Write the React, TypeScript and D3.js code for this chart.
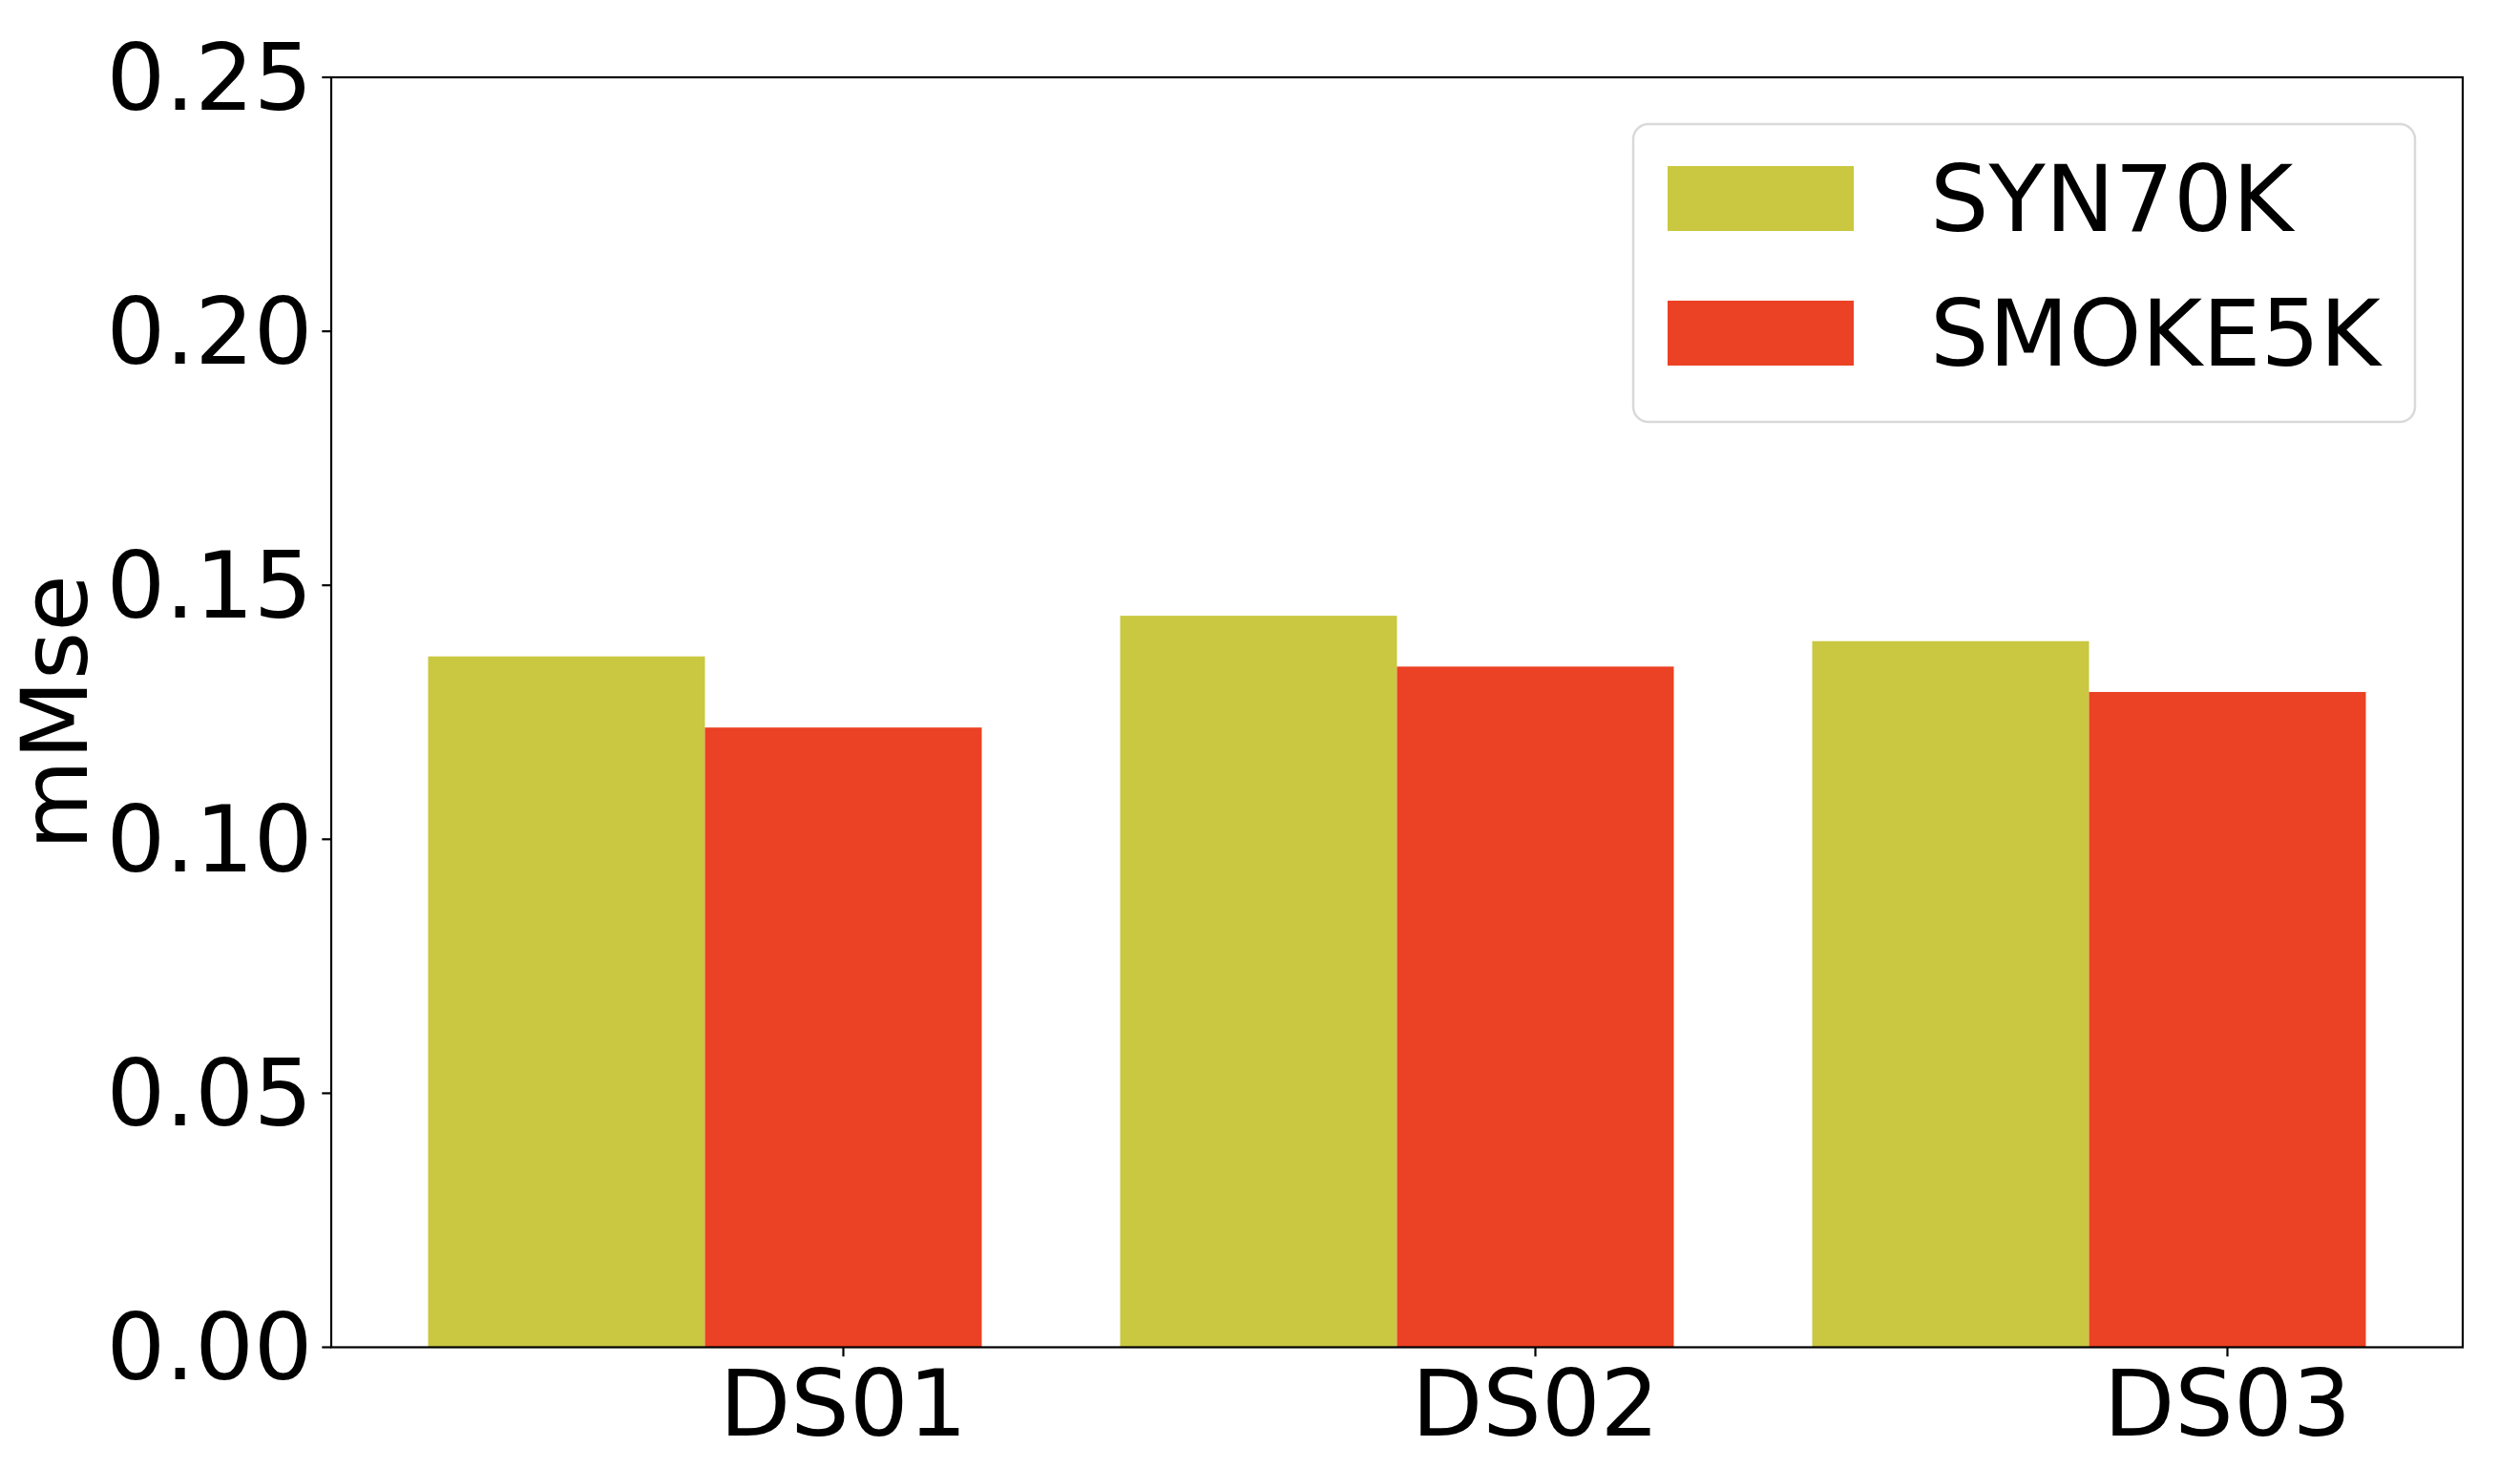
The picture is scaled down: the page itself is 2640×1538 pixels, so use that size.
import React from "react";
import * as d3 from "d3";

const categories = ["DS01", "DS02", "DS03"];
const seriesNames = ["SYN70K", "SMOKE5K"];
const syn70kValues = [0.136, 0.144, 0.139];
const smoke5kValues = [0.122, 0.134, 0.129];
const seriesColors = ["#c9c840", "#eb4124"];
const yTicks = [0, 0.05, 0.1, 0.15, 0.2, 0.25];

const W = 2640;
const H = 1538;
const left = 347;
const right = 2580;
const top = 81;
const bottom = 1411.5;
const barW = 0.4;
const FONT = "DejaVu Sans, Verdana, sans-serif";
const FS = 97;

export default function App() {
  const x = d3.scaleLinear().domain([-0.34, 2.74]).range([left, right]);
  const y = d3.scaleLinear().domain([0, 0.25]).range([bottom, top]);
  const series = [syn70kValues, smoke5kValues];
  const bw = x(barW) - x(0);
  const tickLen = 9.7;
  const pad = 9.7;

  return (
    <div style={{ position: "absolute", left: 0, top: 0 }}>
      <svg width={W} height={H} style={{ display: "block", background: "#fff" }} fontFamily={FONT}>
        <rect x={0} y={0} width={W} height={H} fill="#fff" />
        {series.map((vals, s) =>
          vals.map((v, i) => {
            const cx = x(i + s * barW);
            return (
              <rect
                key={`${s}-${i}`}
                x={cx - bw / 2}
                y={y(v)}
                width={bw}
                height={y(0) - y(v)}
                fill={seriesColors[s]}
              />
            );
          })
        )}
        {/* spines */}
        <rect x={left} y={top} width={right - left} height={bottom - top} fill="none" stroke="#000" strokeWidth={2.2} />
        {/* y ticks */}
        {yTicks.map((t) => (
          <g key={t}>
            <line x1={left - tickLen} x2={left} y1={y(t)} y2={y(t)} stroke="#000" strokeWidth={2.2} />
            <text
              x={left - tickLen - pad}
              y={y(t)}
              textAnchor="end"
              dominantBaseline="central"
              fontSize={FS}
              fill="#000"
            >
              {d3.format(".2f")(t)}
            </text>
          </g>
        ))}
        {/* x ticks */}
        {categories.map((c, i) => {
          const tx = x(i + barW);
          return (
            <g key={c}>
              <line x1={tx} x2={tx} y1={bottom} y2={bottom + tickLen} stroke="#000" strokeWidth={2.2} />
              <text x={tx} y={1504} textAnchor="middle" fontSize={FS} fill="#000">
                {c}
              </text>
            </g>
          );
        })}
        {/* y label */}
        <text
          transform={`translate(91, ${(top + bottom) / 2}) rotate(-90)`}
          textAnchor="middle"
          fontSize={FS}
          fill="#000"
        >
          mMse
        </text>
        {/* legend */}
        <rect x={1711} y={130} width={819} height={312} rx={16} ry={16} fill="#fff" fillOpacity={0.8} stroke="#d9d9d9" strokeWidth={2.5} />
        {seriesNames.map((n, s) => {
          const base = s === 0 ? 242 : 383;
          return (
            <g key={n}>
              <rect x={1747} y={base - 68} width={195} height={68} fill={seriesColors[s]} />
              <text x={2022} y={base} fontSize={FS} fill="#000">
                {n}
              </text>
            </g>
          );
        })}
      </svg>
    </div>
  );
}
